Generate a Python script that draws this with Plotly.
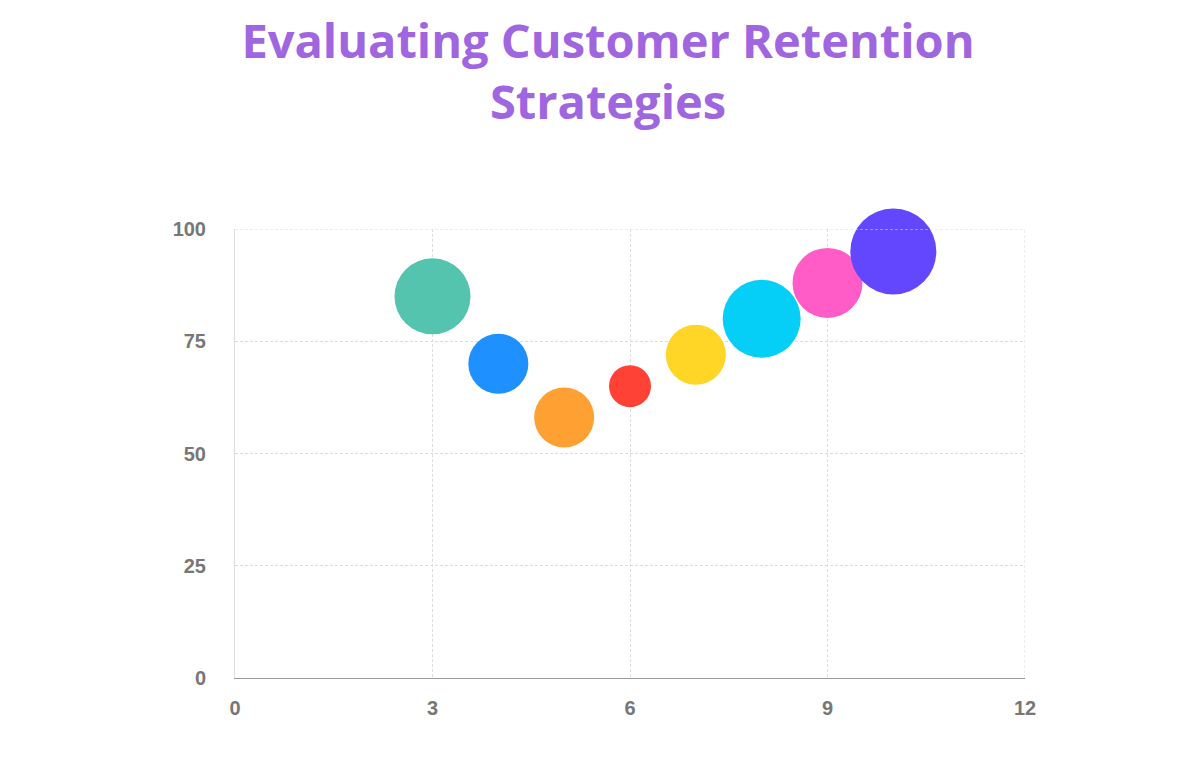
import plotly.graph_objects as go

x_vals = [3, 4, 5, 6, 7, 8, 9, 10]
y_vals = [85, 70, 58, 65, 72, 80, 88, 95]
sizes = [76, 60, 60, 42, 60, 78, 70, 86]
colors = ["#54C4AE", "#1E90FF", "#FFA033", "#FF4136", "#FFD626", "#06CFF7", "#FF5CC7", "#6347FF"]

fig = go.Figure(go.Scatter(
    x=x_vals, y=y_vals, mode="markers", cliponaxis=False,
    marker=dict(size=sizes, color=colors, opacity=1, line=dict(width=0)),
    showlegend=False,
))

tickfont = dict(family="Arial, Liberation Sans", size=20, color="#777777", weight="bold")
fig.update_layout(
    width=1200, height=771,
    plot_bgcolor="white", paper_bgcolor="white",
    margin=dict(l=227, r=183, t=221, b=101, autoexpand=False),
    title=dict(text="<b>Evaluating Customer Retention<br>Strategies</b>",
               x=0.5, xanchor="center", y=0.935, yanchor="top",
               font=dict(family="Open Sans, Arial", size=47, color="#A066E0")),
    xaxis=dict(range=[0, 12], tickvals=[0, 3, 6, 9, 12], showgrid=True,
               gridcolor="#dddddd", griddash="3px,2px", zeroline=False, automargin=False,
               showline=True, linecolor="#999999", tickfont=tickfont, ticklen=12,
               ticks="outside", tickcolor="white"),
    yaxis=dict(range=[0, 100], tickvals=[0, 25, 50, 75, 100], showgrid=True,
               gridcolor="#dddddd", griddash="3px,2px", zeroline=False, automargin=False,
               showline=True, linecolor="#dddddd", tickfont=tickfont,
               ticks="outside", ticklen=24, tickcolor="white"),
)
fig.add_shape(type="line", xref="x", yref="y", x0=12, x1=12, y0=0, y1=100,
              line=dict(color="#dddddd", dash="3px,2px", width=1))
fig.add_shape(type="line", xref="x", yref="y", x0=0, x1=12, y0=100, y1=100,
              line=dict(color="#dddddd", dash="3px,2px", width=1))
fig.write_html("out.html")
